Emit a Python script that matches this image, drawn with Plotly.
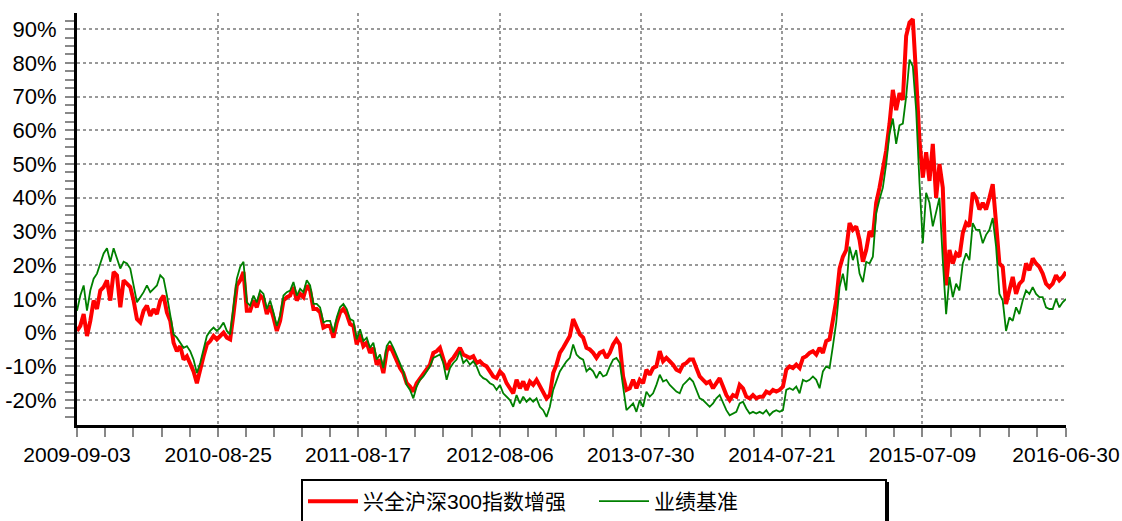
import plotly.graph_objects as go

# ---- data (returns in %, sampled roughly weekly from 2009-09-03 to 2016-06-30) ----
fund_name = "兴全沪深300指数增强"
bench_name = "业绩基准"

red_values = [
    # 2009-09 .. 2010-09
    0.5, 2, 5.5, -1, 3.5, 9.5, 7, 12.5, 13.5, 15.5, 9.5, 18, 17, 7.5, 15.5, 14.5, 13.5, 9.5, 4, 3,
    6.5, 8, 5, 7, 5.5, 9.5, 11, 6, 3.5, -3, -5.5, -4, -8, -7, -9, -11.5, -15, -10.5, -7, -3.5,
    -2.5, -1, -2, -1, 0, -1.5, -2, 5.5, 14, 15.5, 18, 6.5,
    # 2010-09 .. 2012-02
    6.5, 9.5, 7.5, 11, 10, 5.5, 8, 4.5, 0.5, 3.5, 9.5, 10.5, 11, 13.5, 9.5, 11.5, 10.5, 14, 12.5, 7,
    7, 6, 1.5, 2, 2, -1.5, 3, 6, 7, 5.5, 2.5, 2, -3.5, -0.5, -4, -3, -6, -4.5, -9.5, -8,
    -12, -5.5, -4, -6, -8.5, -10.5, -12, -15, -16, -17.5, -15,
    # 2012-02 .. 2013-05
    -13.5, -12, -11, -9.5, -6, -5.5, -4.5, -7.5, -11, -8.5, -7.5, -6, -4.5, -6.5, -7, -7.5, -7, -9, -8.5, -9.5,
    -10, -11.5, -13, -13.5, -11.5, -12.5, -15, -16.5, -18, -14, -16.5, -14.5, -17, -14.5, -15.5, -14, -16, -17.5, -19.5, -18.5,
    -12, -9.5, -6, -4.5, -2.5, -1, 4, 2, -0.5, -1.5, -4.5, -5,
    # 2013-05 .. 2014-06
    -6, -7.5, -6, -5.5, -7.5, -6, -3.5, -2, -3.5, -13, -17, -16.5, -14, -16.5, -14, -15, -11, -12.5, -10.5, -10,
    -5.5, -8.5, -7.5, -8.5, -9.5, -11, -11.5, -9.5, -9, -8, -8, -10.5, -13, -14, -15, -14.5, -16.5, -15, -13.5, -16,
    -18.5, -20, -18.5, -19, -15.5, -16.5, -19, -19.5, -18.5, -19.5, -19,
    # 2014-06 .. 2015-07
    -19, -17.5, -18, -17, -17.5, -17, -16, -11, -10, -10.5, -9.5, -10.5, -7.5, -7, -6, -5.5, -6.5, -4.5, -6, -2.5,
    -2, 3, 9.5, 19, 22.5, 24.5, 32.5, 30.5, 31.5, 27.5, 21, 24.5, 30, 28.5, 38.5, 43, 48.5, 54, 62, 72,
    66, 71, 69, 88, 92, 93, 76, 57, 46, 53.5,
    # 2015-07 .. 2016-06
    45, 56, 40, 50, 43, 14, 24.5, 20.5, 23.5, 22.5, 29.5, 32.5, 31.5, 41.5, 40, 36.5, 38.5, 36.5, 40, 44,
    32.5, 20.5, 19.5, 8.5, 12.5, 16.5, 11.5, 14.5, 15.5, 20.5, 18.5, 22, 20.5, 19.5, 17.5, 14.5, 13.5, 14.5, 17, 15.5,
    16.5, 18,
]

green_values = [
    6.5, 11, 14, 6.5, 12.5, 16, 17.5, 20.5, 23.5, 25, 21, 25, 22, 19, 21, 20.5, 19, 14, 9, 10.5,
    12, 14, 12, 13, 14, 17, 16, 11, 5, -0.5, -1.5, -3, -4.5, -4, -5.5, -8, -12, -9, -4.5, -1,
    0.5, 1.5, 0.5, 1.5, 3, 0.5, -0.5, 7.5, 16, 19.5, 21, 9,
    8, 11, 9, 12.5, 11.5, 7, 9.5, 6, 2, 5, 11, 12, 12.5, 15, 11, 13, 12, 15.5, 14, 8.5,
    8.5, 7.5, 3, 3.5, 3.5, 0, 4.5, 7.5, 8.5, 7, 4, 3.5, -2, 1, -2.5, -1.5, -4.5, -3, -8, -6.5,
    -10.5, -4, -2.5, -4.5, -7, -9, -11.5, -15.5, -17, -19.5, -16,
    -14, -13, -11.5, -10, -7.5, -7, -6.5, -9, -14, -10.5, -9, -8, -5.5, -9, -8, -9.5, -8.5, -10, -12.5, -13.5,
    -14, -15, -15.5, -17, -15.5, -18, -19, -20, -22, -18.5, -21, -19, -20.5, -19.5, -20.5, -19.5, -22, -23, -25, -22,
    -17, -14, -11.5, -10, -8.5, -7.5, -3.5, -6.5, -7.5, -8, -11.5, -10.5,
    -11.5, -13.5, -11.5, -13, -12.5, -10, -8, -7.5, -9, -16, -23, -22, -21, -23.5, -20, -22, -17.5, -19, -18, -15.5,
    -12.5, -14.5, -14, -15.5, -16.5, -17.5, -18, -15.5, -14.5, -13.5, -14.5, -17, -19.5, -20, -21, -22, -21, -19.5, -18.5, -20.5,
    -23, -24.5, -24, -23.5, -21, -20.5, -22.5, -24, -23.5, -24, -23.5,
    -24, -23, -24.5, -23.5, -23, -23.5, -23, -17, -16.5, -17, -16, -18, -14, -14.5, -14, -13, -14, -16.5, -11.5, -10,
    -10.5, -4, 3, 13.5, 17.5, 12.5, 25.5, 21.5, 24.5, 17.5, 15, 21, 20.5, 22.5, 35.5, 39.5, 43, 50, 59, 63.5,
    56, 61.5, 62, 70, 81, 79, 66, 44.5, 26.5, 41.5,
    38.5, 31.5, 35.5, 40, 21.5, 5.5, 16.5, 10.5, 14.5, 12.5, 20.5, 23.5, 21.5, 32.5, 30.5, 30.5, 26.5, 29, 30.5, 34,
    25.5, 11.5, 9.5, 0.5, 4.5, 3.5, 7.5, 5.5, 9.5, 12.5, 11.5, 13.5, 11.5, 10.5, 10.5, 7.5, 7, 7, 10, 7.5,
    9, 10,
]

tick_labels = ["2009-09-03", "2010-08-25", "2011-08-17", "2012-08-06",
               "2013-07-30", "2014-07-21", "2015-07-09", "2016-06-30"]
tick_index = [0, 42.4, 84.4, 127, 169.3, 211.7, 253.9, 297]

y_ticks = [-20, -10, 0, 10, 20, 30, 40, 50, 60, 70, 80, 90]

x_idx = list(range(len(red_values)))

# minor ticks: 4 between each pair of major ticks
minor_x = []
for a, b in zip(tick_index[:-1], tick_index[1:]):
    for k in range(1, 5):
        minor_x.append(a + (b - a) * k / 5)

W, H = 1122, 521
ML, MR, MT, MB = 77, 56, 13, 96
PW, PH = W - ML - MR, H - MT - MB


def px_to_paper_x(px):
    return (px - ML) / PW


def px_to_paper_y(py):
    return 1 - (py - MT) / PH


fig = go.Figure()
fig.add_trace(go.Scatter(x=x_idx, y=red_values, mode="lines", name=fund_name,
                         line=dict(color="#ff0000", width=4)))
fig.add_trace(go.Scatter(x=x_idx, y=green_values, mode="lines", name=bench_name,
                         line=dict(color="#008000", width=1.8)))

x_font = dict(family="Liberation Sans, Arial, sans-serif", size=21, color="black")
y_font = dict(family="Liberation Sans, Arial, sans-serif", size=22, color="black")

# legend drop shadow
fig.add_shape(type="rect", xref="paper", yref="paper",
              x0=px_to_paper_x(304), x1=px_to_paper_x(889),
              y0=px_to_paper_y(523), y1=px_to_paper_y(482),
              fillcolor="black", line=dict(width=0), layer="above")

fig.update_layout(
    width=W, height=H,
    margin=dict(l=ML, r=MR, t=MT, b=MB),
    plot_bgcolor="white", paper_bgcolor="white",
    showlegend=True,
    legend=dict(
        orientation="h", xref="container", yref="container",
        x=301 / W, xanchor="left", y=1 - 479 / H, yanchor="top",
        bordercolor="black", borderwidth=2, bgcolor="white",
        font=dict(family="Liberation Sans, Noto Sans CJK SC, sans-serif", size=21, color="black"),
        itemwidth=50, entrywidth=226, entrywidthmode="pixels",
        tracegroupgap=0,
    ),
    xaxis=dict(
        range=[0, 297], tickmode="array", tickvals=tick_index, ticktext=tick_labels,
        showline=True, linecolor="black", linewidth=3, automargin=False,
        ticks="outside", ticklen=9, tickwidth=2, tickcolor="#888888",
        showgrid=True, gridcolor="#999999", gridwidth=1.5, griddash="dot",
        zeroline=False, tickfont=x_font,
        minor=dict(tickmode="array", tickvals=minor_x, ticks="outside", ticklen=9,
                   tickwidth=2, tickcolor="#888888", showgrid=False),
    ),
    yaxis=dict(
        range=[-27.4, 94.8], tickmode="array", tickvals=y_ticks,
        ticktext=[f"{v}%" for v in y_ticks],
        showline=True, linecolor="black", linewidth=3, automargin=False,
        ticks="outside", ticklen=9, tickwidth=2, tickcolor="#888888",
        showgrid=True, gridcolor="#999999", gridwidth=1.5, griddash="dot",
        zeroline=False, tickfont=y_font, ticklabelstandoff=4,
        minor=dict(dtick=2.5, tick0=0, ticks="outside", ticklen=9,
                   tickwidth=2, tickcolor="#888888", showgrid=False),
    ),
)

fig.write_html("out.html", config={"displayModeBar": False},
               post_script="document.body.style.margin='0px';")
